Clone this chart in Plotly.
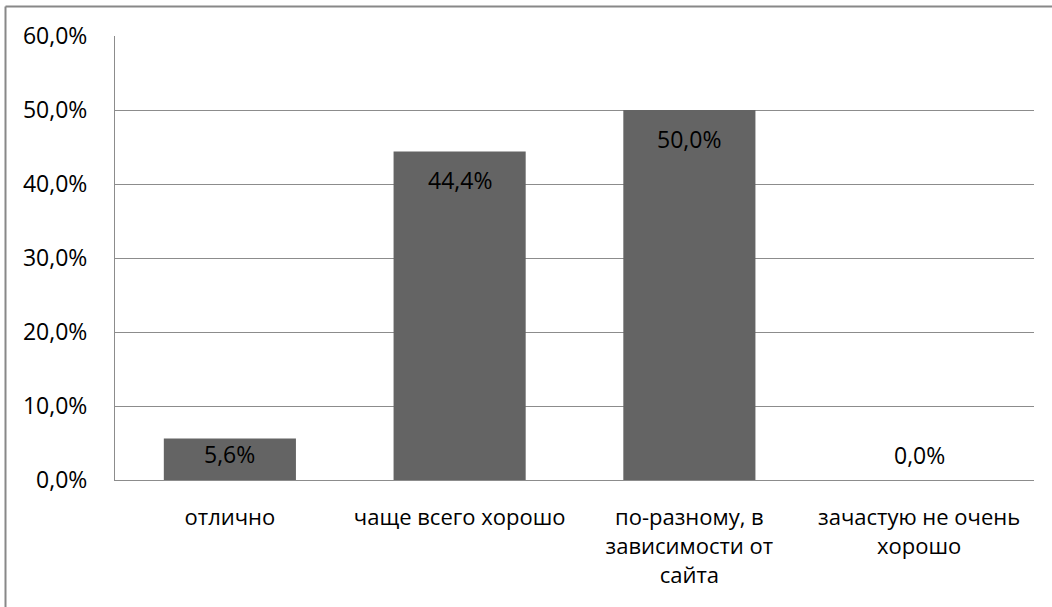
import plotly.graph_objects as go

categories = ["отлично", "чаще всего хорошо", "по-разному, в<br>зависимости от<br>сайта", "зачастую не очень<br>хорошо"]
values = [0.056, 0.444, 0.50, 0.0]
value_labels = ["5,6%", "44,4%", "50,0%", "0,0%"]
tick_vals = [0, 0.1, 0.2, 0.3, 0.4, 0.5, 0.6]

FONT = "Open Sans"
W, H = 1052, 607
ML, MR, MT, MB = 115, 18, 36, 127

fig = go.Figure(go.Bar(x=categories, y=values, marker=dict(color="#646464", line=dict(width=0)),
                       hoverinfo="skip"))

anns = []
for c, v, t in zip(categories, values, value_labels):
    if v > 0.1:
        ys = -29
    elif v > 0:
        ys = -15
    else:
        ys = 25
    anns.append(dict(x=c, y=v, text=t, showarrow=False, yshift=ys, xref="x", yref="y",
                     font=dict(family=FONT, size=23, color="#000000")))

pw = W - ML - MR
ph = H - MT - MB
bx = (5.5 - ML) / pw
by = 1 + (MT - 6.5) / ph
shapes = [
    dict(type="line", xref="paper", yref="paper", x0=bx, x1=1.2, y0=by, y1=by,
         line=dict(color="#888888", width=2)),
    dict(type="line", xref="paper", yref="paper", x0=bx, x1=bx, y0=by, y1=-0.5,
         line=dict(color="#888888", width=2)),
]

fig.update_layout(
    width=W, height=H,
    margin=dict(l=ML, r=MR, t=MT, b=MB),
    paper_bgcolor="white", plot_bgcolor="white",
    separators=",.",
    bargap=0.425,
    showlegend=False,
    annotations=anns,
    shapes=shapes,
    font=dict(family=FONT, size=22, color="#000000"),
    yaxis=dict(range=[0, 0.6], tickvals=tick_vals, tickformat=".1%",
               showgrid=True, gridcolor="#8c8c8c", gridwidth=1,
               showline=True, linecolor="#8c8c8c", linewidth=1,
               zeroline=False, ticks="", ticklabelstandoff=22,
               tickfont=dict(family=FONT, size=23, color="#000000")),
    xaxis=dict(showline=True, linecolor="#8c8c8c", linewidth=1, ticks="",
               ticklabelstandoff=18,
               tickfont=dict(family=FONT, size=22, color="#000000")),
)

fig.write_html("out.html", config={"displayModeBar": False},
               post_script="document.body.style.margin='0';")
